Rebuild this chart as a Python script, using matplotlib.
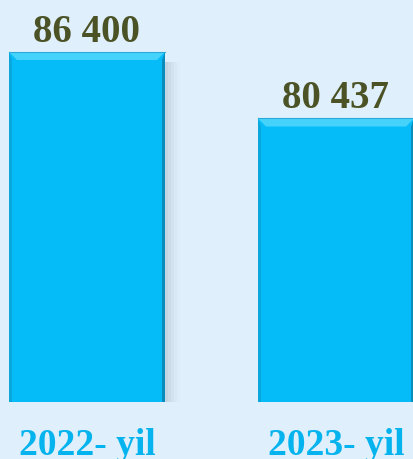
import matplotlib
matplotlib.use("Agg")
import matplotlib.pyplot as plt
from matplotlib.patches import Polygon, Rectangle

categories = ["2022- yil", "2023- yil"]
values = [86400, 80437]
value_labels = ["86 400", "80 437"]

bg = "#dff0fc"
bar_color = "#06bcf8"
label_color = "#4b5326"
cat_color = "#05b3ee"

W, H = 414, 459
fig = plt.figure(figsize=(W / 100, H / 100), dpi=100, facecolor=bg)
ax_bottom_px = 57
ax = fig.add_axes([0, ax_bottom_px / H, 1, (H - ax_bottom_px) / H])
ax.set_facecolor(bg)
ymin = 55000
ymax = ymin + (H - ax_bottom_px) / 0.011146
xmin, xmax = -0.3494, 1.3133
ax.set_xlim(xmin, xmax)
ax.set_ylim(ymin, ymax)
for s in ax.spines.values():
    s.set_visible(False)
ax.set_xticks([])
ax.set_yticks([])

width = 0.6265
xs = list(range(len(values)))
bars = ax.bar(xs, values, width=width, bottom=0, color=bar_color, zorder=3)

px_x = (xmax - xmin) / W
px_y = (ymax - ymin) / (H - ax_bottom_px)

for b in bars:
    x0 = b.get_x(); x1 = x0 + b.get_width(); top = b.get_height()
    # shadow on right
    for i, a in enumerate([0.10, 0.08, 0.06, 0.04, 0.025]):
        ax.add_patch(Rectangle((x1, ymin), (3 + 3 * i) * px_x, top - ymin - 10 * px_y,
                               color="#7f8f9a", alpha=a, lw=0, zorder=2))
    t = 8 * px_y; s = 3 * px_x
    # top bevel (lighter)
    ax.add_patch(Polygon([(x0, top), (x1, top), (x1 - 8 * px_x, top - t), (x0 + 8 * px_x, top - t)],
                         closed=True, color="#45d3fb", lw=0, zorder=4))
    # left bevel
    ax.add_patch(Polygon([(x0, top), (x0 + s, top - t), (x0 + s, ymin), (x0, ymin)],
                         closed=True, color="#0aa6dc", lw=0, zorder=4))
    # right bevel (darker)
    ax.add_patch(Polygon([(x1, top), (x1 - s, top - t), (x1 - s, ymin), (x1, ymin)],
                         closed=True, color="#0a8cbc", lw=0, zorder=4))
    ax.plot([x0, x1], [top, top], color="#2aa8d8", lw=0.8, zorder=5)

for x, v, lab in zip(xs, values, value_labels):
    ax.annotate(lab, (x, v), xytext=(0, 7.2), textcoords="offset points",
                ha="center", va="baseline", fontsize=28, fontweight="bold",
                family="Liberation Serif", color=label_color, zorder=6)

for x, c in zip(xs, categories):
    fx = (x - xmin) / (xmax - xmin)
    fig.text(fx, (H - 455) / H, c, ha="center", va="baseline", fontsize=27,
             fontweight="bold", family="Liberation Serif", color=cat_color)

fig.savefig("out.png", dpi=100, facecolor=bg)
